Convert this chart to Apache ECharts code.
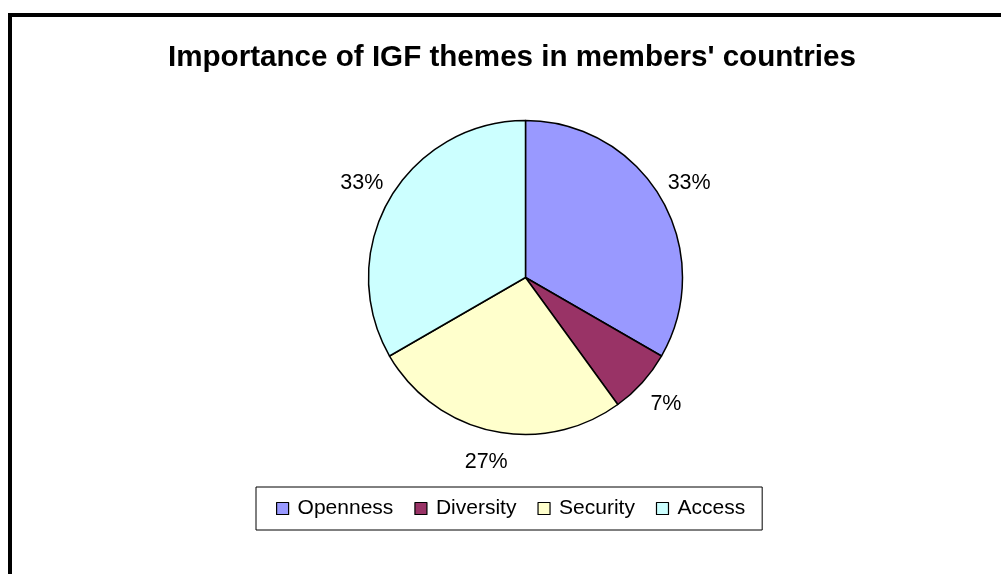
<!DOCTYPE html>
<html>
<head>
<meta charset="utf-8">
<script src="https://cdn.jsdelivr.net/npm/echarts@6/dist/echarts.min.js"></script>
<style>
html,body{margin:0;padding:0;background:#fff;}
#chart{width:1001px;height:574px;}
</style>
</head>
<body>
<div id="chart"></div>
<script>
var categories = ['Openness', 'Diversity', 'Security', 'Access'];
var values = [5, 1, 4, 5];
var colors = ['#9999FF', '#993366', '#FFFFCC', '#CCFFFF'];
var titleText = "Importance of IGF themes in members' countries";

var chart = echarts.init(document.getElementById('chart'), null, {renderer: 'canvas'});
var FONT = 'Liberation Sans, Arial, sans-serif';

function pieData(withColor) {
  return categories.map(function (c, i) {
    return {
      name: c,
      value: values[i],
      itemStyle: withColor ? {color: colors[i]} : {color: 'rgba(0,0,0,0)', borderWidth: 0}
    };
  });
}

var option = {
  animation: false,
  backgroundColor: '#ffffff',
  graphic: [{
    type: 'rect',
    shape: {x: 10, y: 15, width: 1200, height: 800},
    style: {fill: 'none', stroke: '#000', lineWidth: 4},
    silent: true,
    z: 100
  }],
  title: {
    text: titleText,
    left: 163,
    top: 38,
    padding: 5,
    textStyle: {fontFamily: FONT, fontSize: 29.6, fontWeight: 'bold', color: '#000'}
  },
  legend: {
    data: categories,
    left: 256,
    top: 487,
    orient: 'horizontal',
    padding: [11, 17, 11, 20],
    itemGap: 21,
    itemWidth: 12,
    itemHeight: 12,
    icon: 'rect',
    borderColor: '#000',
    borderWidth: 1,
    selectedMode: false,
    itemStyle: {borderColor: '#000', borderWidth: 1.2},
    textStyle: {fontFamily: FONT, fontSize: 21, color: '#000', lineHeight: 20, padding: [0, 0, 0, 4]}
  },
  series: [{
    type: 'pie',
    center: [525.5, 277.5],
    radius: [0, 157],
    startAngle: 90,
    clockwise: true,
    silent: true,
    data: pieData(true),
    itemStyle: {borderColor: '#000', borderWidth: 1.5},
    label: {show: false},
    labelLine: {show: false}
  }, {
    type: 'pie',
    center: [525.5, 277.5],
    radius: [0, 372],
    startAngle: 90,
    clockwise: true,
    silent: true,
    legendHoverLink: false,
    data: pieData(false),
    label: {
      show: true,
      position: 'inside',
      fontFamily: FONT,
      fontSize: 21.5,
      color: '#000',
      formatter: function (p) { return Math.round(p.percent) + '%'; }
    },
    labelLine: {show: false}
  }]
};
chart.setOption(option);
</script>
</body>
</html>
